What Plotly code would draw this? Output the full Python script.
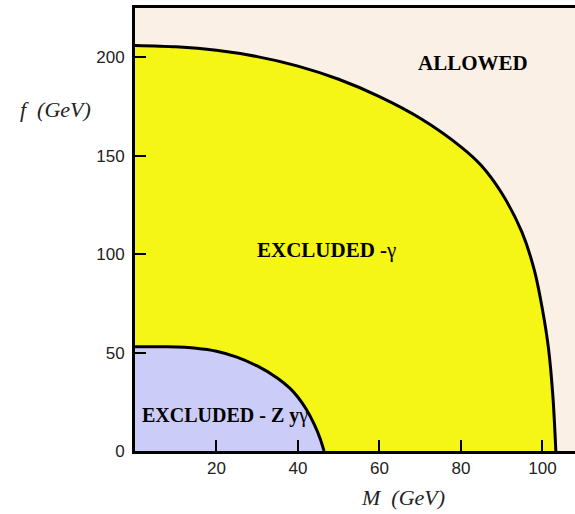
import plotly.graph_objects as go

# Boundary of the region excluded by gamma (yellow)
gamma_M = [0, 10, 20, 30, 40, 50, 60, 70, 80, 85, 90, 95, 98, 100, 101.5, 102.6, 103.3]
gamma_f = [206, 205.3, 203.5, 200.3, 195.5, 188.8, 180, 169, 154.5, 145, 131, 111, 92, 72, 52, 27, 0]

# Boundary of the region excluded by Z y gamma (blue)
zyg_M = [0, 8, 15, 20, 25, 30, 35, 38, 40, 42, 44, 45.5, 46.4]
zyg_f = [53, 52.9, 52.2, 50.7, 47.7, 43.2, 37, 31.9, 27.3, 21.3, 13.5, 6, 0]

x_ticks = [20, 40, 60, 80, 100]
y_ticks = [0, 50, 100, 150, 200]

fig = go.Figure()
fig.add_trace(go.Scatter(x=gamma_M, y=gamma_f, mode="lines", fill="tozeroy",
                         fillcolor="#F5F516",
                         line=dict(color="black", width=3, shape="spline", smoothing=0.8),
                         hoverinfo="skip", showlegend=False))
fig.add_trace(go.Scatter(x=zyg_M, y=zyg_f, mode="lines", fill="tozeroy",
                         fillcolor="#CCCCF8",
                         line=dict(color="black", width=3, shape="spline", smoothing=0.6),
                         hoverinfo="skip", showlegend=False))

fig.add_annotation(x=83, y=197, text="<b>ALLOWED</b>", showarrow=False,
                   font=dict(family="Liberation Serif", size=21, color="black"))
fig.add_annotation(x=47.1, y=102, text="<b>EXCLUDED -</b>γ", showarrow=False,
                   font=dict(family="Liberation Serif", size=21, color="black"))
fig.add_annotation(x=22.1, y=17.8, text="<b>EXCLUDED - Z y</b>γ", showarrow=False,
                   font=dict(family="Liberation Serif", size=20, color="black"))

title_font = dict(family="Liberation Serif", size=22, color="#222")
fig.add_annotation(xref="paper", yref="paper", x=0.609, y=-0.104, xanchor="center",
                   yanchor="middle", text="<i>M  (GeV)</i>", showarrow=False, font=title_font)
fig.add_annotation(xref="paper", yref="paper", x=-0.18, y=0.77, xanchor="center",
                   yanchor="middle", text="<i>f  (GeV)</i>", showarrow=False, font=title_font)

fig.update_xaxes(range=[0, 108], tickvals=x_ticks, ticks="inside", ticklen=11, tickwidth=2,
                 tickcolor="black", showline=True, linecolor="black", linewidth=3, mirror=True,
                 showgrid=False, zeroline=False,
                 tickfont=dict(family="Liberation Sans", size=17, color="#222"))
fig.update_yaxes(range=[0, 225], tickvals=y_ticks, ticks="inside", ticklen=11, tickwidth=2,
                 tickcolor="black", showline=True, linecolor="black", linewidth=3,
                 showgrid=False, zeroline=False, ticklabelstandoff=4,
                 tickfont=dict(family="Liberation Sans", size=17, color="#222"))

fig.update_layout(width=575, height=514, margin=dict(l=135, r=0, t=8, b=63),
                  plot_bgcolor="#FAF0E6", paper_bgcolor="white")

fig.write_html("out.html")
